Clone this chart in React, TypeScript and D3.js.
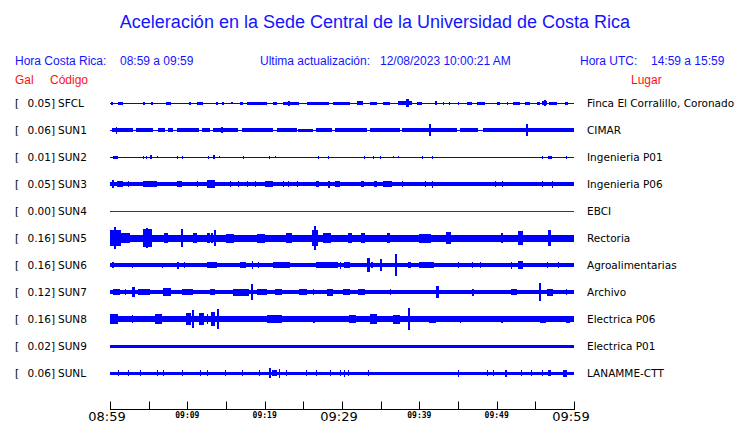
import { useEffect, useRef } from "react";
import * as d3 from "d3";

// Station table
const codes = ["SFCL", "SUN1", "SUN2", "SUN3", "SUN4", "SUN5", "SUN6", "SUN7", "SUN8", "SUN9", "SUNL"];
const galValues = ["0.05", "0.06", "0.01", "0.05", "0.00", "0.16", "0.16", "0.12", "0.16", "0.02", "0.06"];
const places = [
  "Finca El Corralillo, Coronado",
  "CIMAR",
  "Ingenieria P01",
  "Ingenieria P06",
  "EBCI",
  "Rectoria",
  "Agroalimentarias",
  "Archivo",
  "Electrica P06",
  "Electrica P01",
  "LANAMME-CTT",
];

// Background noise half-amplitude of each trace (relative units)
const noiseLevels = [0.5, 0.5, 0.5, 2.2, 0.5, 3.5, 1.8, 1.8, 3.0, 1.5, 1.7];

// Bursts per trace: [start minute, end minute, half-amplitude]
type Burst = [number, number, number];

const sfclBursts: Burst[] = [
  [0.1, 0.4, 1.5], [1.0, 1.7, 1.5], [4.3, 4.6, 1.5], [5.3, 5.6, 1.5], [7.3, 7.9, 1.5],
  [10.2, 10.4, 1.5], [11.2, 12.0, 1.5], [13.7, 13.9, 1.5], [14.5, 14.8, 1.5], [15.7, 15.9, 1],
  [16.8, 17.2, 1.5], [17.7, 20.3, 1.5], [21.1, 21.6, 1.5], [22.4, 24.5, 1.5], [23.0, 23.2, 2.5],
  [25.5, 28.4, 1.5], [28.8, 31.0, 1.5], [31.9, 32.7, 2], [33.6, 34.5, 1.5], [35.3, 36.2, 1.5],
  [37.2, 39.0, 2], [38.3, 38.7, 4], [39.7, 40.3, 1.5], [42.0, 42.2, 2], [43.0, 43.1, 1.5],
  [43.9, 44.0, 1.5], [45.0, 45.1, 1.5], [46.1, 46.8, 1.5], [47.4, 48.4, 1.5], [50.0, 50.4, 1.5],
  [51.4, 51.5, 1.5], [52.1, 53.0, 1.5], [53.6, 54.3, 1.5], [55.2, 55.6, 1.5], [55.9, 56.5, 2],
  [56.1, 56.3, 3], [56.8, 57.8, 1.5], [58.8, 59.2, 1.5],
];

const sun1Bursts: Burst[] = [
  [0.3, 3.0, 2], [0.8, 0.9, 3.5], [3.4, 5.6, 2], [6.2, 7.1, 2], [7.5, 8.1, 2], [8.7, 11.6, 2],
  [11.9, 12.9, 2], [13.3, 16.5, 2], [14.4, 14.6, 3], [17.1, 21.1, 2], [21.6, 24.2, 2],
  [24.3, 26.2, 1.5], [26.7, 28.8, 2], [29.1, 33.3, 2], [33.6, 37.5, 2], [37.7, 40.7, 2],
  [41.2, 41.4, 6], [40.7, 44.8, 2], [45.2, 47.5, 2], [48.2, 53.2, 2], [53.8, 54.0, 6], [53.2, 60, 2],
];

const sun2Bursts: Burst[] = [
  [0.4, 1.0, 1.5], [4.3, 4.4, 1.5], [4.6, 4.7, 1.5], [5.2, 5.5, 2], [6.1, 6.2, 1], [8.7, 8.8, 1.5],
  [9.3, 9.4, 1.5], [12.7, 12.8, 1.5], [13.3, 13.6, 2], [14.1, 14.2, 1], [17.2, 17.3, 1.5],
  [20.5, 20.6, 1.5], [21.4, 21.5, 1], [26.9, 27.0, 1.5], [28.2, 28.3, 1.5], [32.9, 33.0, 1.5],
  [34.0, 34.1, 1.5], [34.9, 35.0, 1.5], [36.6, 36.7, 1], [37.2, 37.3, 1], [40.4, 40.5, 1.5],
  [41.7, 41.8, 1.5], [55.9, 56.0, 1.5], [56.6, 57.1, 1.5], [59.0, 59.1, 1.5],
];

const sun3Bursts: Burst[] = [
  [0.3, 0.5, 4], [0.9, 1.7, 3], [2.3, 2.4, 3], [4.3, 6.1, 3], [8.7, 9.3, 3], [11.2, 11.3, 3],
  [12.5, 13.5, 4], [15.5, 15.6, 3], [16.5, 16.6, 3], [17.7, 17.8, 3], [18.7, 18.8, 3],
  [20.0, 21.0, 3], [22.4, 22.5, 3], [23.0, 23.1, 3], [24.2, 24.3, 3], [26.7, 27.1, 3],
  [28.2, 28.4, 3.5], [29.1, 29.7, 3], [32.4, 32.8, 3], [34.1, 34.5, 3], [35.3, 36.5, 3],
  [37.7, 37.8, 3], [40.7, 40.8, 3], [41.6, 41.7, 3.5], [49.8, 49.9, 3], [50.7, 50.8, 3],
  [55.9, 56.0, 3], [57.1, 57.2, 3.5],
];

const sun4Bursts: Burst[] = [];

const sun5Bursts: Burst[] = [
  [0, 1.4, 8], [0.5, 0.8, 11], [1.4, 2.5, 5], [4.3, 5.5, 9], [4.6, 4.8, 10], [7.0, 7.5, 5],
  [9.2, 9.4, 9], [10.7, 11.2, 5], [12.5, 12.9, 5], [13.1, 13.3, 5], [13.5, 13.7, 8],
  [15.0, 16.0, 4.5], [19.0, 20.0, 4.5], [22.8, 23.6, 5], [26.1, 26.9, 8], [26.4, 26.6, 12],
  [27.5, 28.5, 5], [30.8, 31.3, 5], [32.5, 33.0, 5], [35.8, 36.2, 5], [40.0, 41.5, 4.5],
  [43.5, 44.2, 6], [50.6, 50.8, 5], [52.8, 53.5, 7], [56.7, 57.1, 8],
];

const sun6Bursts: Burst[] = [
  [0.2, 0.4, 3], [2.9, 3.0, 2.5], [6.7, 6.8, 2.5], [8.6, 8.8, 3.5], [9.6, 9.7, 3],
  [12.5, 13.8, 2.8], [16.8, 17.6, 3], [18.4, 18.5, 4], [19.1, 19.2, 3], [21.1, 23.3, 3],
  [26.7, 29.5, 2.8], [29.8, 29.9, 3.5], [30.2, 31.0, 2.8], [33.2, 33.6, 7], [33.8, 34.0, 3],
  [34.9, 35.2, 6], [36.9, 37.2, 11], [38.5, 38.9, 3], [40.0, 42.0, 3], [45.0, 45.1, 3],
  [46.8, 46.9, 3], [47.8, 47.9, 3], [51.9, 52.0, 3.5], [52.7, 53.4, 4], [56.5, 56.6, 3],
  [57.9, 58.0, 3],
];

const sun7Bursts: Burst[] = [
  [0.4, 1.3, 3], [1.9, 2.0, 3], [2.8, 3.2, 5], [3.6, 5.2, 3], [6.8, 7.8, 4], [9.3, 10.7, 3],
  [12.9, 13.5, 3], [15.9, 18.0, 3.5], [18.2, 18.4, 8], [19.0, 20.3, 3], [21.3, 22.2, 3],
  [24.5, 25.5, 3], [26.2, 26.3, 3], [28.0, 28.8, 3.5], [30.1, 31.0, 3], [32.1, 33.0, 3],
  [36.2, 36.3, 3], [42.2, 42.6, 6], [46.8, 47.0, 3.5], [51.9, 52.7, 3], [55.5, 55.7, 9],
  [56.5, 57.3, 3.5], [59.0, 59.1, 3],
];

const sun8Bursts: Burst[] = [
  [0, 1.0, 5], [2.8, 2.9, 4], [5.8, 6.7, 5], [9.8, 10.5, 6], [10.6, 10.8, 9], [11.5, 12.2, 6],
  [12.5, 12.6, 5], [13.0, 13.5, 7], [13.8, 14.0, 10], [20.3, 22.3, 4], [26.3, 26.5, 3.5],
  [30.9, 31.8, 4], [33.6, 34.5, 5], [36.6, 37.5, 4.5], [38.5, 38.7, 11], [41.3, 42.2, 3.5],
  [45.2, 45.3, 3.5], [50.6, 50.8, 3.5], [55.6, 56.4, 3.5], [59.0, 59.5, 3.5],
];

const sun9Bursts: Burst[] = [];

const sunlBursts: Burst[] = [
  [1.0, 1.1, 3], [2.3, 2.4, 3], [3.9, 4.0, 3], [6.1, 6.2, 3], [6.8, 6.9, 3], [9.3, 9.4, 3],
  [11.6, 11.7, 3], [12.5, 12.6, 3], [14.9, 15.0, 3], [17.1, 17.2, 3], [19.3, 19.4, 3],
  [20.5, 20.7, 5], [20.9, 21.6, 3], [21.9, 22.0, 4.5], [22.8, 22.9, 3], [25.4, 25.5, 3],
  [26.7, 26.8, 3], [28.4, 28.5, 3], [29.7, 29.8, 3], [30.2, 30.3, 3.5], [30.8, 30.9, 3],
  [33.3, 33.4, 3], [45.0, 45.1, 3.5], [48.7, 48.8, 3], [49.5, 49.6, 3], [51.1, 51.3, 3.5],
  [53.2, 53.3, 3], [54.5, 54.6, 3], [55.9, 56.0, 3], [56.6, 57.0, 3], [58.6, 59.1, 3.5],
];

const burstsByStation = [
  sfclBursts, sun1Bursts, sun2Bursts, sun3Bursts, sun4Bursts, sun5Bursts,
  sun6Bursts, sun7Bursts, sun8Bursts, sun9Bursts, sunlBursts,
];

// Time axis (minutes after 08:59)
const tickMinutes = [0, 5, 10, 15, 20, 25, 30, 35, 40, 45, 50, 55, 60];
const tickLabels = ["08:59", "", "09:09", "", "09:19", "", "09:29", "", "09:39", "", "09:49", "", "09:59"];
const bigTicks = ["08:59", "09:29", "09:59"];

const width = 740;
const height = 423;
const blue = "#1414ff";

export default function App() {
  const svgRef = useRef<SVGSVGElement>(null);

  useEffect(() => {
    if (!svgRef.current) return;
    const svg = d3.select(svgRef.current);
    svg.selectAll("*").remove();

    const xScale = d3.scaleLinear().domain([0, 60]).range([110, 574]);
    const yScale = d3.scalePoint<string>().domain(codes).range([103, 373]);
    const ampScale = d3.scaleLinear().domain([0, 12]).range([0, 12]);

    // Title
    svg.append("text")
      .attr("x", 375)
      .attr("y", 28)
      .attr("text-anchor", "middle")
      .attr("font-family", "Liberation Sans, Arial, sans-serif")
      .attr("font-size", "18px")
      .attr("fill", blue)
      .text("Aceleración en la Sede Central de la Universidad de Costa Rica");

    // Header line
    const header: [number, string][] = [
      [15, "Hora Costa Rica:"],
      [120, "08:59 a 09:59"],
      [260, "Ultima actualización:"],
      [380, "12/08/2023 10:00:21 AM"],
      [580, "Hora UTC:"],
      [651, "14:59 a 15:59"],
    ];
    header.forEach(([x, t]) => {
      svg.append("text")
        .attr("x", x)
        .attr("y", 65)
        .attr("font-family", "Liberation Sans, Arial, sans-serif")
        .attr("font-size", "12px")
        .attr("fill", blue)
        .text(t);
    });

    const columns: [number, string][] = [
      [15, "Gal"],
      [50, "Código"],
      [631, "Lugar"],
    ];
    columns.forEach(([x, t]) => {
      svg.append("text")
        .attr("x", x)
        .attr("y", 84)
        .attr("font-family", "Liberation Sans, Arial, sans-serif")
        .attr("font-size", "12px")
        .attr("fill", "#ff1010")
        .text(t);
    });

    // Traces (pixel-aligned rectangles, like the raster original)
    codes.forEach((code, i) => {
      const cy = Math.round(yScale(code) as number);
      const color = code === "SUN4" ? "#cc0000" : "#0000ff";
      const g = svg.append("g").attr("shape-rendering", "crispEdges");

      const bandHeight = (a: number) => Math.max(1, Math.round(ampScale(a) * 2));
      const bandTop = (a: number) => cy - Math.floor(bandHeight(a) / 2);

      g.append("rect")
        .attr("x", xScale(0))
        .attr("y", bandTop(noiseLevels[i]))
        .attr("width", xScale(60) - xScale(0))
        .attr("height", bandHeight(noiseLevels[i]))
        .attr("fill", color);

      g.selectAll("rect.burst")
        .data(burstsByStation[i])
        .enter()
        .append("rect")
        .attr("class", "burst")
        .attr("x", (d) => Math.round(xScale(d[0])))
        .attr("y", (d) => bandTop(d[2]))
        .attr("width", (d) => Math.max(1, Math.round(xScale(d[1]) - xScale(d[0]))))
        .attr("height", (d) => bandHeight(d[2]))
        .attr("fill", color);

      // Left and right labels
      const lab = svg.append("g")
        .attr("font-family", "DejaVu Sans, sans-serif")
        .attr("font-size", "10.5px")
        .attr("fill", "#000");
      lab.append("text").attr("x", 15).attr("y", cy + 4).text("[");
      lab.append("text").attr("x", 55).attr("y", cy + 4).attr("text-anchor", "end").text(`${galValues[i]}]`);
      lab.append("text").attr("x", 58).attr("y", cy + 4).text(code);
      lab.append("text").attr("x", 587).attr("y", cy + 4).text(places[i]);
    });

    // Time axis
    const axisY = 409.5;
    const axis = svg.append("g");
    axis.append("line")
      .attr("x1", xScale(0))
      .attr("x2", xScale(60) + 1)
      .attr("y1", axisY)
      .attr("y2", axisY)
      .attr("stroke", "#000");

    tickMinutes.forEach((m, i) => {
      const x = Math.round(xScale(m)) + 0.5;
      axis.append("line")
        .attr("x1", x)
        .attr("x2", x)
        .attr("y1", axisY - 8)
        .attr("y2", axisY)
        .attr("stroke", "#000");
      const label = tickLabels[i];
      if (!label) return;
      const big = bigTicks.includes(label);
      axis.append("text")
        .attr("x", xScale(m) - (big ? 3 : 0))
        .attr("y", big ? 421 : 418)
        .attr("text-anchor", "middle")
        .attr("font-family", big ? "DejaVu Sans, sans-serif" : "DejaVu Sans Mono, monospace")
        .attr("font-size", big ? "13px" : "8px")
        .attr("font-weight", big ? "normal" : "bold")
        .attr("fill", "#000")
        .text(label);
    });
  }, []);

  return (
    <svg
      ref={svgRef}
      width={width}
      height={height}
      viewBox={`0 0 ${width} ${height}`}
      style={{ position: "absolute", left: 0, top: 0, background: "#fff" }}
    />
  );
}
